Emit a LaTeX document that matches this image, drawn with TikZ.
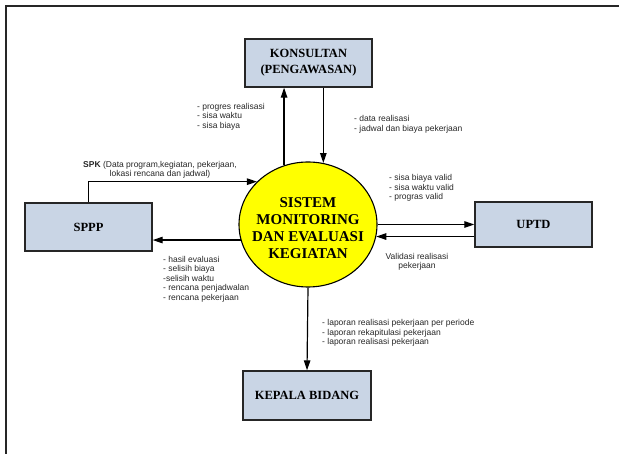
\documentclass[tikz,border=0pt]{standalone}
\usepackage{fontspec}
\setmainfont{Liberation Serif}
\setsansfont{Liberation Sans}
\usetikzlibrary{shapes.geometric,arrows.meta}
\definecolor{boxfill}{HTML}{C9D5E5}
\definecolor{sunyellow}{HTML}{FFFF00}
\definecolor{labelgray}{HTML}{262626}
\tikzset{
  entity/.style={draw=black!85, line width=1.4pt, fill=boxfill, inner sep=0pt,
    font=\fontsize{12.5}{16}\selectfont\bfseries, align=center},
  process/.style={ellipse, draw=black, line width=1.1pt, fill=sunyellow, inner sep=0pt,
    minimum width=138pt, minimum height=125pt},
  flow/.style={line width=1.2pt, -{Triangle[length=10pt,width=6.5pt]}},
  lbl/.style={inner sep=0pt, text=labelgray, font=\sffamily\fontsize{8.5}{9.5}\selectfont},
  frame/.style={draw=black!85, line width=1.1pt}
}
\begin{document}
\begin{tikzpicture}[x=1pt,y=-1pt]
\useasboundingbox (0,0) rectangle (619,454);
\draw[frame] (6,454) -- (6,6) -- (619,6);

\node[process] (sys) at (308,224.5) {};
\node[inner sep=0pt, align=center, font=\fontsize{15}{17}\selectfont\bfseries] (systext) at (308,228.5)
  {SISTEM\\MONITORING\\DAN EVALUASI\\KEGIATAN};

\node[entity, minimum width=127pt, minimum height=48pt] (kons) at (308.5,63) {KONSULTAN\\(PENGAWASAN)};
\node[entity, minimum width=127pt, minimum height=48pt] (sppp) at (88.5,227) {SPPP};
\node[entity, minimum width=117pt, minimum height=45pt] (uptd) at (533.5,224.5) {UPTD};
\node[entity, minimum width=128pt, minimum height=49pt] (kep) at (307,395.5) {KEPALA BIDANG};

% connectors
\draw[flow] (sys.112.3) -- (sys.112.3 |- kons.south);
\draw[flow] (sys.76.2 |- kons.south) -- (sys.76.2);
\draw[flow] (sppp.north) |- (sys.140);
\draw[flow] (sys.193.7) -- (sys.193.7 -| sppp.east);
\draw[flow] (sys.east) -- (uptd.west |- sys.east);
\draw[flow] (uptd.west |- sys.-10.5) -- (sys.-10.5);
\draw[flow] (sys.south) -- (kep.north);

% labels
\node[lbl, anchor=west, align=left] (l1) at (197,116.5) {- progres realisasi\\- sisa waktu\\- sisa biaya};
\node[lbl, anchor=west, align=left] (l2) at (354,124.5) {- data realisasi\\- jadwal dan biaya pekerjaan};
\node[lbl, align=center, font=\sffamily\fontsize{8.5}{9}\selectfont] (l3) at (160,169.5) {\textbf{SPK} (Data program,kegiatan, pekerjaan,\\lokasi rencana dan jadwal)};
\node[lbl, anchor=west, align=left] (l4) at (163,279) {- hasil evaluasi\\- selisih biaya\\-selisih waktu\\- rencana penjadwalan\\- rencana pekerjaan};
\node[lbl, anchor=west, align=left] (l5) at (389,188) {- sisa biaya valid\\- sisa waktu valid\\- progras valid};
\node[lbl, align=center] (l6) at (417,262) {Validasi realisasi\\pekerjaan};
\node[lbl, anchor=west, align=left] (l7) at (322,333) {- laporan realisasi pekerjaan per periode\\- laporan rekapitulasi pekerjaan\\- laporan realisasi pekerjaan};
\end{tikzpicture}
\end{document}
